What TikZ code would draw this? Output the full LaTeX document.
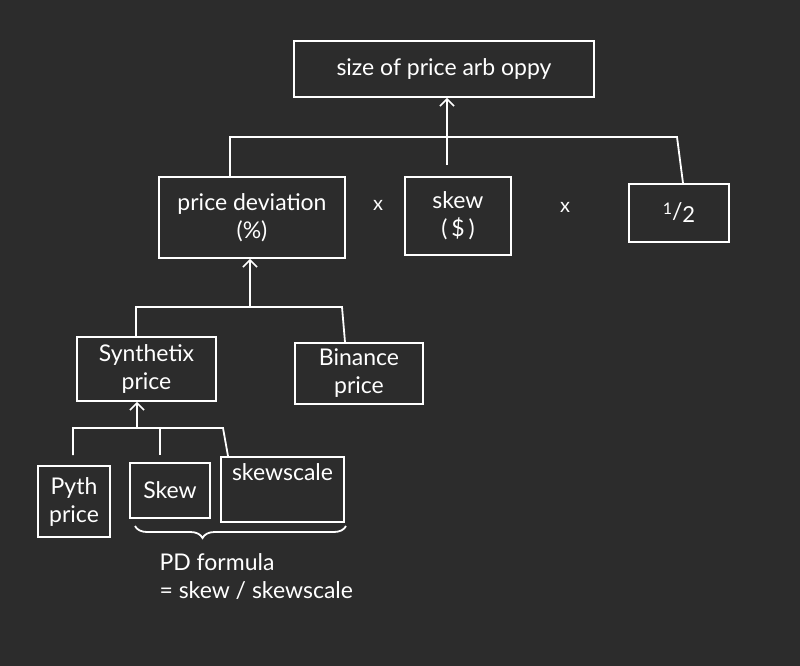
\documentclass[tikz,border=0pt]{standalone}
\usepackage{fontspec}
\setmainfont{Lato}
\usetikzlibrary{arrows.meta,decorations.pathreplacing}
\definecolor{bgdark}{RGB}{44,44,44}
\begin{document}
\begin{tikzpicture}[x=1pt,y=-1pt,
  every node/.style={text=white,font=\fontsize{23}{28}\selectfont},
  box/.style={draw=white,line width=1.8pt,align=center,inner sep=0pt},
  wire/.style={draw=white,line width=1.8pt},
  up/.style={wire,-{Straight Barb[length=7pt,width=14pt,line width=1.6pt]}}]
\fill[bgdark] (0,0) rectangle (800,666);
\useasboundingbox (0,0) rectangle (800,666);

% nodes
\node[box,minimum width=300pt,minimum height=56pt] (top) at (444,69) {size of price arb oppy};
\node[box,minimum width=186pt,minimum height=81pt] (pd) at (252,217.5) {price deviation\\(\%)};
\node[box,minimum width=106pt,minimum height=78pt] (skewtop) at (458,216) {skew\\(\,\$\,)};
\node[box,minimum width=100pt,minimum height=58pt] (half) at (679,213) {\raisebox{5pt}{\fontsize{16}{16}\selectfont 1}/\raisebox{-3pt}{\fontsize{22}{22}\selectfont 2}};
\node[font=\fontsize{20}{20}\selectfont] (x1) at (378,205) {x};
\node[font=\fontsize{20}{20}\selectfont] (x2) at (565,207) {x};

\node[box,minimum width=139pt,minimum height=64pt] (syn) at (146.5,369) {Synthetix\\price};
\node[box,minimum width=128pt,minimum height=61pt] (bin) at (359,373.5) {Binance\\price};

\node[box,minimum width=72pt,minimum height=71pt] (pyth) at (74,501.5) {Pyth\\price};
\node[box,minimum width=80pt,minimum height=55pt] (skew) at (170,490.5) {Skew};
\node[box,minimum width=123pt,minimum height=65pt,
  label={[anchor=north,yshift=-4pt]north:skewscale}] (scale) at (282.5,489.5) {};

\node[anchor=north west,align=left] (pdf) at (156,550) {PD formula\\= skew / skewscale};

% top tree
\coordinate (tl) at (230,137);
\coordinate (tr) at (677,137);
\coordinate (tm) at (447,165);
\draw[wire] (pd.north -| tl) -- (tl) -- (tr) -- (half.north -| 683,0);
\draw[up] (tm) -- (top.south -| tm);

% middle tree
\coordinate (ml) at (136,307);
\coordinate (mr) at (342,307);
\coordinate (mm) at (250,307);
\draw[wire] (syn.north -| ml) -- (ml) -- (mr) -- (bin.north -| 345,0);
\draw[up] (mm) -- (pd.south -| mm);

% bottom tree
\coordinate (bl) at (73,428);
\coordinate (br) at (223,428);
\coordinate (bm) at (137,428);
\coordinate (blend) at (73,455);
\coordinate (bmid) at (160,428);
\coordinate (bmidend) at (160,455);
\coordinate (brend) at (228,456);
\draw[wire] (blend) -- (bl) -- (br) -- (brend);
\draw[wire] (bmid) -- (bmidend);
\draw[up] (bm) -- (syn.south -| bm);

% brace
\coordinate (bracel) at (135,526);
\coordinate (bracer) at (346,526);
\draw[wire,decorate,decoration={brace,mirror,amplitude=12pt,aspect=0.32}] (bracel) -- (bracer);
\end{tikzpicture}
\end{document}
